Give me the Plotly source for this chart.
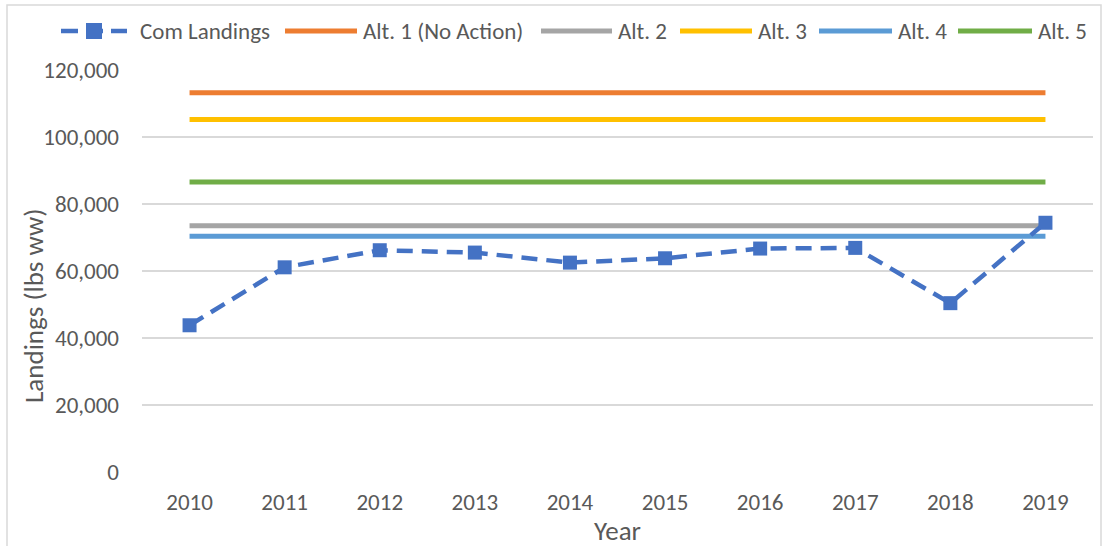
import plotly.graph_objects as go

years = ["2010", "2011", "2012", "2013", "2014", "2015", "2016", "2017", "2018", "2019"]
com_landings = [43800, 61100, 66200, 65500, 62500, 63800, 66700, 66900, 50400, 74400]
alt_names = ["Alt. 1 (No Action)", "Alt. 2", "Alt. 3", "Alt. 4", "Alt. 5"]
alt_values = [113200, 73500, 105200, 70400, 86600]
alt_colors = ["#ED7D31", "#A5A5A5", "#FFC000", "#5B9BD5", "#70AD47"]
y_ticks = [0, 20000, 40000, 60000, 80000, 100000, 120000]

COM_COLOR = "#4472C4"
TXT = "#595959"
FONT = "Carlito, Calibri, Lato, sans-serif"
fig = go.Figure()

for name, val, col in zip(alt_names, alt_values, alt_colors):
    fig.add_trace(go.Scatter(
        x=years, y=[val] * len(years), mode="lines", name=name,
        line=dict(color=col, width=5), showlegend=False,
    ))

fig.add_trace(go.Scatter(
    x=years, y=com_landings, mode="lines+markers", name="Com Landings",
    line=dict(color=COM_COLOR, width=4.5, dash="16px,9px"),
    marker=dict(symbol="square", size=14, color=COM_COLOR),
    showlegend=False,
))

L, R, T, B = 142, 11, 70, 74
W, H = 1104, 546
pw, ph = W - L - R, H - T - B

def px_x(x):
    return (x - L) / pw

def px_y(y):
    return (H - B - y) / ph

# legend layout (pixel positions of symbol start/end and text start)
LEG_Y = 31
legend_items = [
    ("Com Landings", COM_COLOR, 61, 127, 138),
    (alt_names[0], alt_colors[0], 285, 357, 361),
    (alt_names[1], alt_colors[1], 541, 612, 616),
    (alt_names[2], alt_colors[2], 680, 752, 756),
    (alt_names[3], alt_colors[3], 819, 892, 896),
    (alt_names[4], alt_colors[4], 958, 1032, 1036),
]

shapes = [dict(type="rect", xref="paper", yref="paper",
               x0=px_x(7), x1=px_x(1101), y0=px_y(560), y1=px_y(5),
               line=dict(color="#D9D9D9", width=1.5), fillcolor="rgba(0,0,0,0)", layer="below")]
annotations = [
    dict(text="Landings (lbs ww)", xref="paper", yref="paper", x=px_x(33), y=px_y(306),
         xanchor="center", yanchor="middle", textangle=-90, showarrow=False,
         font=dict(size=27, color=TXT)),
    dict(text="Year", xref="paper", yref="paper", x=px_x(617), y=px_y(530),
         xanchor="center", yanchor="middle", showarrow=False,
         font=dict(size=27, color=TXT)),
]

for i, (name, col, s0, s1, tx) in enumerate(legend_items):
    if i == 0:
        shapes.append(dict(type="line", xref="paper", yref="paper",
                           x0=px_x(s0), x1=px_x(s1), y0=px_y(LEG_Y), y1=px_y(LEG_Y),
                           line=dict(color=col, width=4.5, dash="17px,8px")))
        mid = (s0 + s1) / 2
        shapes.append(dict(type="rect", xref="paper", yref="paper",
                           x0=px_x(mid - 8), x1=px_x(mid + 8),
                           y0=px_y(LEG_Y + 8), y1=px_y(LEG_Y - 8),
                           line=dict(width=0), fillcolor=col))
    else:
        shapes.append(dict(type="line", xref="paper", yref="paper",
                           x0=px_x(s0), x1=px_x(s1), y0=px_y(LEG_Y), y1=px_y(LEG_Y),
                           line=dict(color=col, width=5)))
    annotations.append(dict(text=name, xref="paper", yref="paper", x=px_x(tx), y=px_y(LEG_Y),
                            xanchor="left", yanchor="middle", showarrow=False,
                            font=dict(size=23, color=TXT)))

fig.update_layout(
    width=W, height=H,
    margin=dict(l=L, r=R, t=T, b=B),
    paper_bgcolor="white", plot_bgcolor="white",
    font=dict(family=FONT, color=TXT, size=23),
    showlegend=False,
    xaxis=dict(type="category", showgrid=False, showline=False, ticks="",
               tickfont=dict(size=23), ticklabelstandoff=14, range=[-0.5, 9.5]),
    yaxis=dict(range=[0, 120000], tickvals=y_ticks, tickformat=",", showgrid=True,
               gridcolor="#D9D9D9", gridwidth=1.5, zeroline=False, showline=False, ticks="",
               tickfont=dict(size=23), ticklabelstandoff=22),
    annotations=annotations,
    shapes=shapes,
)

fig.write_html("out.html", config={"displayModeBar": False},
               post_script="document.body.style.margin='0';document.body.style.overflow='hidden';")
